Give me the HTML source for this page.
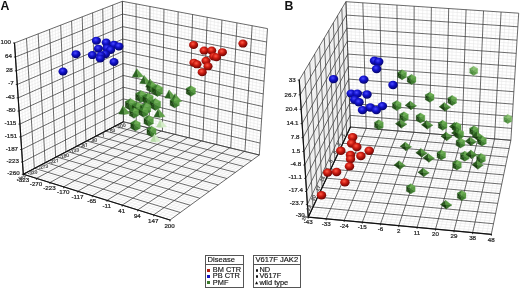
<!DOCTYPE html>
<html><head><meta charset="utf-8"><style>
html,body{margin:0;padding:0;background:#fff;width:520px;height:289px;overflow:hidden}
body{position:relative;font-family:"Liberation Sans",sans-serif}
#w{position:absolute;left:0;top:0;width:520px;height:289px;filter:blur(0.3px)}
svg{position:absolute;left:0;top:0}
text{font-family:"Liberation Sans",sans-serif;fill:#333}
.lg{position:absolute;border:1px solid #555;background:#fff}
.hd{position:absolute;left:0;top:0;right:0;height:8px;border-bottom:1px solid #555;font-size:7.6px;line-height:8.5px;padding-left:1.5px;color:#111;-webkit-text-stroke:0.15px #111}
.it{position:absolute;left:0.8px;font-size:7.4px;line-height:7px;color:#111;white-space:nowrap;-webkit-text-stroke:0.15px #111}
.sq{display:inline-block;width:3px;height:3px;margin-right:3px;vertical-align:0.5px}
.bu{display:inline-block;width:4.4px;height:7px;position:relative;vertical-align:top}
.dot{position:absolute;left:0.6px;top:3px;background:#111;border-radius:50%}
.tri{position:absolute;left:0.5px;top:2.8px;width:0;height:0;border-left:1.5px solid transparent;border-right:1.5px solid transparent;border-bottom:2.8px solid #111}
.pl{position:absolute;font-weight:bold;font-size:12.3px;line-height:13px;color:#111}
</style></head><body><div id="w">
<svg width="520" height="289" viewBox="0 0 520 289"><defs>
<radialGradient id="gr" cx="0.42" cy="0.36" r="0.64"><stop offset="0" stop-color="#ff5a45"/><stop offset="0.45" stop-color="#cc1c12"/><stop offset="1" stop-color="#6a0402"/></radialGradient>
<radialGradient id="gb" cx="0.42" cy="0.36" r="0.64"><stop offset="0" stop-color="#4a4aff"/><stop offset="0.45" stop-color="#1212cc"/><stop offset="1" stop-color="#040468"/></radialGradient>
</defs>
<path d="M126.60 122.58L125.80 1.94M129.81 123.37L129.22 2.58M133.03 124.15L132.64 3.23M139.49 125.73L139.52 4.52M142.74 126.53L142.98 5.17M146.00 127.32L146.45 5.82M152.54 128.92L153.42 7.14M155.83 129.72L156.92 7.79M159.13 130.53L160.43 8.46M165.75 132.15L167.50 9.78M169.08 132.96L171.04 10.45M172.42 133.78L174.60 11.12M179.13 135.41L181.76 12.47M182.49 136.24L185.35 13.14M185.87 137.06L188.96 13.82M192.66 138.72L196.20 15.19M196.07 139.55L199.84 15.87M199.49 140.39L203.50 16.56M206.36 142.07L210.84 17.94M209.82 142.91L214.53 18.63M213.28 143.76L218.23 19.33M220.24 145.46L225.67 20.73M223.73 146.31L229.41 21.43M227.24 147.17L233.16 22.14M234.29 148.89L240.70 23.56M237.83 149.75L244.49 24.27M241.38 150.62L248.30 24.99M248.51 152.36L255.94 26.42M252.10 153.24L259.78 27.15M255.69 154.12L263.63 27.87M123.38 118.96L259.49 152.04M123.35 116.12L259.69 149.06M123.33 113.27L259.88 146.08M123.28 107.53L260.27 140.09M123.26 104.66L260.46 137.08M123.23 101.77L260.66 134.06M123.19 95.97L261.05 127.99M123.16 93.05L261.25 124.94M123.14 90.13L261.45 121.88M123.09 84.26L261.85 115.73M123.06 81.31L262.05 112.64M123.04 78.35L262.25 109.54M122.99 72.40L262.65 103.31M122.97 69.42L262.86 100.18M122.94 66.42L263.06 97.04M122.89 60.40L263.47 90.72M122.87 57.38L263.68 87.55M122.84 54.34L263.88 84.37M122.79 48.25L264.30 77.97M122.76 45.19L264.51 74.76M122.74 42.12L264.71 71.53M122.69 35.95L265.14 65.05M122.66 32.85L265.35 61.79M122.64 29.74L265.56 58.52M122.58 23.49L265.99 51.95M122.56 20.35L266.20 48.65M122.53 17.20L266.41 45.33M122.48 10.87L266.85 38.67M122.45 7.69L267.06 35.33M122.43 4.50L267.28 31.97" stroke="#e2e2e2" stroke-width="0.5" fill="none"/><path d="M123.40 121.80L122.40 1.30M136.26 124.94L136.08 3.87M149.27 128.12L149.93 6.48M162.44 131.34L163.96 9.12M175.77 134.59L178.17 11.79M189.26 137.89L192.57 14.50M202.92 141.23L207.16 17.25M216.75 144.61L221.95 20.03M230.76 148.03L236.93 22.85M244.94 151.49L252.11 25.70M259.30 155.00L267.50 28.60M123.40 121.80L259.30 155.00M123.31 110.41L260.07 143.09M123.21 98.87L260.86 131.03M123.11 87.20L261.65 118.81M123.01 75.38L262.45 106.43M122.92 63.41L263.26 93.88M122.81 51.30L264.09 81.17M122.71 39.04L264.92 68.29M122.61 26.62L265.77 55.24M122.51 14.04L266.63 42.01M122.40 1.30L267.50 28.60" stroke="#3a3a3a" stroke-width="0.75" fill="none"/><path d="M121.15 122.98L119.99 2.23M118.89 124.17L117.57 3.17M116.61 125.36L115.13 4.11M112.02 127.77L110.22 6.01M109.71 128.98L107.75 6.96M107.39 130.20L105.26 7.93M102.71 132.65L100.24 9.87M100.35 133.89L97.70 10.84M97.98 135.13L95.16 11.83M93.20 137.64L90.02 13.81M90.79 138.90L87.43 14.81M88.36 140.18L84.83 15.82M83.48 142.74L79.57 17.85M81.02 144.03L76.92 18.88M78.54 145.33L74.26 19.91M73.55 147.94L68.88 21.98M71.04 149.26L66.17 23.03M68.51 150.59L63.44 24.09M63.41 153.26L57.94 26.21M60.84 154.61L55.16 27.29M58.25 155.97L52.37 28.37M53.04 158.70L46.73 30.54M50.41 160.08L43.89 31.64M47.77 161.47L41.03 32.75M42.44 164.26L35.26 34.98M39.75 165.67L32.35 36.10M37.05 167.09L29.42 37.23M31.59 169.95L23.51 39.52M28.85 171.39L20.52 40.67M26.08 172.84L17.52 41.83M123.38 118.98L23.10 171.25M123.35 116.14L22.89 168.18M123.33 113.30L22.68 165.10M123.28 107.59L22.27 158.92M123.26 104.72L22.06 155.81M123.23 101.84L21.85 152.69M123.19 96.05L21.43 146.41M123.16 93.14L21.22 143.26M123.14 90.23L21.01 140.09M123.09 84.36L20.58 133.73M123.06 81.42L20.37 130.53M123.04 78.46L20.15 127.31M122.99 72.52L19.72 120.85M122.97 69.54L19.50 117.61M122.94 66.54L19.28 114.35M122.89 60.53L18.84 107.79M122.87 57.50L18.62 104.49M122.84 54.47L18.40 101.19M122.79 48.37L17.95 94.53M122.77 45.30L17.73 91.19M122.74 42.23L17.50 87.83M122.69 36.05L17.05 81.07M122.66 32.94L16.82 77.68M122.64 29.83L16.60 74.27M122.58 23.56L16.14 67.41M122.56 20.41L15.91 63.96M122.53 17.25L15.67 60.50M122.48 10.91L15.21 53.54M122.45 7.71L14.97 50.04M122.43 4.51L14.74 46.53" stroke="#e2e2e2" stroke-width="0.5" fill="none"/><path d="M123.40 121.80L122.40 1.30M114.32 126.56L112.69 5.05M105.06 131.42L102.75 8.89M95.59 136.38L92.60 12.82M85.93 141.45L82.21 16.83M76.06 146.63L71.58 20.94M65.97 151.92L60.70 25.15M55.65 157.33L49.56 29.45M45.11 162.86L38.15 33.86M34.33 168.52L26.47 38.37M23.30 174.30L14.50 43.00M123.40 121.80L23.30 174.30M123.31 110.45L22.48 162.02M123.21 98.95L21.64 149.56M123.11 87.30L20.79 136.92M123.02 75.50L19.93 124.09M122.92 63.54L19.06 111.07M122.82 51.42L18.18 97.86M122.71 39.14L17.28 84.46M122.61 26.70L16.37 70.85M122.51 14.09L15.44 57.03M122.40 1.30L14.50 43.00" stroke="#3a3a3a" stroke-width="0.75" fill="none"/><path d="M126.47 122.55L26.56 175.32M129.56 123.30L29.84 176.34M132.66 124.06L33.14 177.36M138.91 125.59L39.79 179.44M142.05 126.36L43.14 180.48M145.22 127.13L46.52 181.53M151.59 128.69L53.33 183.65M154.80 129.47L56.76 184.72M158.03 130.26L60.21 185.80M164.54 131.85L67.18 187.97M167.81 132.65L70.70 189.07M171.11 133.45L74.23 190.17M177.75 135.08L81.37 192.39M181.09 135.89L84.97 193.51M184.45 136.72L88.59 194.64M191.23 138.37L95.90 196.92M194.65 139.20L99.59 198.06M198.08 140.04L103.30 199.22M205.00 141.73L110.78 201.55M208.48 142.59L114.56 202.73M211.99 143.44L118.36 203.91M219.06 145.17L126.04 206.30M222.62 146.04L129.91 207.51M226.20 146.91L133.81 208.72M233.42 148.68L141.67 211.18M237.05 149.57L145.64 212.41M240.71 150.46L149.64 213.66M248.09 152.26L157.71 216.17M251.80 153.17L161.78 217.44M255.54 154.08L165.88 218.72M121.22 122.94L257.39 156.39M119.03 124.09L255.47 157.79M116.83 125.25L253.53 159.20M112.37 127.58L249.61 162.05M110.12 128.76L247.63 163.49M107.86 129.95L245.63 164.95M103.28 132.35L241.59 167.89M100.97 133.57L239.55 169.38M98.64 134.79L237.49 170.87M93.93 137.25L233.33 173.91M91.55 138.50L231.22 175.44M89.16 139.76L229.09 176.99M84.32 142.30L224.80 180.11M81.87 143.58L222.62 181.70M79.41 144.87L220.43 183.29M74.43 147.48L215.99 186.52M71.92 148.80L213.75 188.16M69.38 150.13L211.49 189.80M64.26 152.82L206.90 193.14M61.66 154.18L204.58 194.83M59.06 155.55L202.25 196.53M53.78 158.31L197.51 199.97M51.11 159.71L195.11 201.72M48.42 161.12L192.70 203.48M42.99 163.98L187.80 207.04M40.24 165.42L185.32 208.85M37.47 166.87L182.82 210.67M31.87 169.81L177.76 214.35M29.03 171.29L175.20 216.22M26.18 172.79L172.61 218.10" stroke="#e2e2e2" stroke-width="0.5" fill="none"/><path d="M123.40 121.80L23.30 174.30M135.77 124.82L36.45 178.40M148.40 127.91L49.91 182.59M161.28 131.05L63.69 186.88M174.42 134.26L77.79 191.27M187.83 137.54L92.23 195.77M201.53 140.89L107.03 200.38M215.51 144.30L122.19 205.11M229.80 147.79L137.73 209.95M244.39 151.36L153.66 214.91M259.30 155.00L170.00 220.00M123.40 121.80L259.30 155.00M114.61 126.41L251.58 160.62M105.58 131.15L243.62 166.41M96.29 136.02L235.42 172.38M86.75 141.02L226.95 178.54M76.93 146.17L218.22 184.90M66.83 151.47L209.20 191.46M56.43 156.93L199.89 198.24M45.71 162.54L190.26 205.25M34.68 168.33L180.30 212.50M23.30 174.30L170.00 220.00" stroke="#3a3a3a" stroke-width="0.75" fill="none"/><path d="M14.50 43.00L23.30 174.30M23.30 174.30L123.40 121.80M23.30 174.30L170.00 220.00" stroke="#111" stroke-width="1.2" fill="none" stroke-linecap="round"/><path d="M21.80 174.30L23.30 174.30M23.30 174.30L23.30 175.80M20.98 162.02L22.48 162.02M36.45 178.40L36.45 179.90M20.14 149.56L21.64 149.56M49.91 182.59L49.91 184.09M19.29 136.92L20.79 136.92M63.69 186.88L63.69 188.38M18.43 124.09L19.93 124.09M77.79 191.27L77.79 192.77M17.56 111.07L19.06 111.07M92.23 195.77L92.23 197.27M16.68 97.86L18.18 97.86M107.03 200.38L107.03 201.88M15.78 84.46L17.28 84.46M122.19 205.11L122.19 206.61M14.87 70.85L16.37 70.85M137.73 209.95L137.73 211.45M13.94 57.03L15.44 57.03M153.66 214.91L153.66 216.41M13.00 43.00L14.50 43.00M170.00 220.00L170.00 221.50" stroke="#111" stroke-width="0.8" fill="none"/>
<path d="M354.39 127.39L350.13 1.97M358.32 127.71L354.37 2.25M362.27 128.04L358.61 2.53M370.16 128.69L367.10 3.10M374.11 129.01L371.35 3.38M378.07 129.34L375.61 3.67M386.00 129.99L384.14 4.23M389.97 130.32L388.41 4.52M393.94 130.64L392.68 4.80M401.90 131.30L401.25 5.37M405.88 131.63L405.54 5.66M409.87 131.96L409.83 5.95M417.86 132.62L418.43 6.52M421.86 132.95L422.74 6.81M425.86 133.28L427.05 7.09M433.89 133.94L435.69 7.67M437.90 134.27L440.01 7.96M441.92 134.60L444.34 8.25M449.98 135.26L453.02 8.83M454.01 135.59L457.36 9.12M458.05 135.93L461.71 9.41M466.13 136.59L470.43 9.99M470.18 136.93L474.79 10.28M474.23 137.26L479.16 10.57M482.35 137.93L487.91 11.15M486.42 138.26L492.29 11.44M490.49 138.60L496.68 11.74M498.64 139.27L505.47 12.32M502.72 139.61L509.87 12.62M506.80 139.94L514.27 12.91M350.35 124.14L511.07 137.33M350.24 121.21L511.26 134.36M350.14 118.28L511.44 131.39M349.92 112.37L511.81 125.41M349.81 109.40L511.99 122.40M349.70 106.41L512.18 119.38M349.49 100.42L512.55 113.31M349.38 97.41L512.73 110.26M349.27 94.38L512.92 107.19M349.05 88.30L513.30 101.03M348.94 85.24L513.49 97.94M348.83 82.17L513.68 94.83M348.60 76.01L514.06 88.58M348.49 72.90L514.26 85.43M348.38 69.79L514.45 82.28M348.15 63.53L514.84 75.94M348.03 60.38L515.03 72.74M347.92 57.22L515.23 69.54M347.69 50.87L515.63 63.10M347.57 47.68L515.82 59.86M347.46 44.47L516.02 56.61M347.22 38.02L516.42 50.07M347.11 34.78L516.63 46.79M346.99 31.53L516.83 43.48M346.75 24.98L517.24 36.85M346.63 21.69L517.44 33.51M346.51 18.39L517.65 30.16M346.27 11.75L518.06 23.41M346.15 8.40L518.27 20.02M346.03 5.05L518.48 16.62" stroke="#e2e2e2" stroke-width="0.5" fill="none"/><path d="M350.45 127.06L345.90 1.69M366.21 128.36L362.85 2.82M382.03 129.66L379.87 3.95M397.92 130.97L396.96 5.09M413.86 132.29L414.13 6.23M429.87 133.61L431.37 7.38M445.95 134.93L448.68 8.54M462.09 136.26L466.07 9.70M478.29 137.59L483.53 10.86M494.56 138.93L501.07 12.03M510.89 140.28L518.69 13.20M350.45 127.06L510.89 140.28M350.03 115.33L511.62 128.40M349.60 103.42L512.36 116.35M349.16 91.35L513.11 104.12M348.71 79.10L513.87 91.71M348.26 66.67L514.64 79.11M347.80 54.05L515.43 66.33M347.34 41.25L516.22 53.35M346.87 28.26L517.03 40.17M346.39 15.07L517.85 26.79M345.90 1.69L518.69 13.20" stroke="#3a3a3a" stroke-width="0.75" fill="none"/><path d="M349.53 129.04L344.89 3.39M348.60 131.02L343.87 5.10M347.66 133.02L342.85 6.82M345.76 137.06L340.78 10.30M344.81 139.10L339.73 12.06M343.85 141.15L338.67 13.83M341.90 145.30L336.54 17.41M340.92 147.39L335.47 19.22M339.94 149.49L334.38 21.04M337.94 153.74L332.19 24.72M336.93 155.89L331.08 26.58M335.92 158.05L329.97 28.45M333.87 162.42L327.71 32.24M332.84 164.62L326.57 34.15M331.80 166.84L325.43 36.08M329.70 171.33L323.11 39.98M328.64 173.59L321.93 41.95M327.57 175.87L320.75 43.93M325.41 180.48L318.36 47.95M324.32 182.80L317.15 49.98M323.22 185.14L315.94 52.02M321.00 189.88L313.48 56.15M319.88 192.27L312.23 58.24M318.75 194.68L310.98 60.35M316.46 199.55L308.44 64.61M315.31 202.01L307.16 66.76M314.15 204.48L305.86 68.94M311.80 209.49L303.25 73.33M310.62 212.02L301.93 75.55M309.42 214.57L300.59 77.79M350.35 124.14L308.01 213.98M350.24 121.21L307.80 210.81M350.14 118.28L307.60 207.62M349.92 112.37L307.18 201.22M349.81 109.40L306.97 198.00M349.70 106.41L306.75 194.76M349.49 100.42L306.33 188.25M349.38 97.41L306.11 184.98M349.27 94.38L305.90 181.69M349.05 88.30L305.47 175.07M348.94 85.24L305.25 171.74M348.83 82.17L305.03 168.40M348.60 76.01L304.59 161.67M348.49 72.90L304.37 158.28M348.38 69.79L304.15 154.88M348.15 63.53L303.70 148.04M348.03 60.38L303.47 144.60M347.92 57.22L303.25 141.14M347.69 50.87L302.79 134.18M347.57 47.68L302.56 130.68M347.46 44.47L302.33 127.17M347.22 38.02L301.87 120.09M347.11 34.78L301.64 116.52M346.99 31.53L301.40 112.95M346.75 24.98L300.93 105.75M346.63 21.69L300.69 102.12M346.51 18.39L300.46 98.48M346.27 11.75L299.98 91.16M346.15 8.40L299.74 87.47M346.03 5.05L299.49 83.77" stroke="#e2e2e2" stroke-width="0.5" fill="none"/><path d="M350.45 127.06L345.90 1.69M346.71 135.04L341.82 8.55M342.88 143.22L337.61 15.61M338.94 151.61L333.29 22.87M334.90 160.23L328.84 30.34M330.75 169.08L324.27 38.02M326.49 178.16L319.56 45.93M322.11 187.50L314.71 54.08M317.61 197.10L309.71 62.47M312.98 206.98L304.56 71.12M308.22 217.13L299.25 80.05M350.45 127.06L308.22 217.13M350.03 115.33L307.39 204.43M349.60 103.42L306.54 191.51M349.16 91.35L305.68 178.39M348.71 79.10L304.81 165.04M348.26 66.67L303.92 151.47M347.80 54.05L303.02 137.67M347.34 41.25L302.10 123.63M346.87 28.26L301.17 109.35M346.39 15.07L300.22 94.83M345.90 1.69L299.25 80.05" stroke="#3a3a3a" stroke-width="0.75" fill="none"/><path d="M354.39 127.39L312.69 217.55M358.32 127.71L317.17 217.98M362.27 128.04L321.66 218.40M370.16 128.69L330.65 219.25M374.11 129.01L335.15 219.67M378.07 129.34L339.65 220.09M386.00 129.99L348.68 220.95M389.97 130.32L353.20 221.37M393.94 130.64L357.73 221.80M401.90 131.30L366.80 222.65M405.88 131.63L371.34 223.08M409.87 131.96L375.89 223.51M417.86 132.62L385.00 224.37M421.86 132.95L389.56 224.80M425.86 133.28L394.13 225.23M433.89 133.94L403.28 226.09M437.90 134.27L407.87 226.52M441.92 134.60L412.46 226.95M449.98 135.26L421.65 227.82M454.01 135.59L426.26 228.25M458.05 135.93L430.87 228.69M466.13 136.59L440.10 229.56M470.18 136.93L444.73 229.99M474.23 137.26L449.36 230.43M482.35 137.93L458.64 231.31M486.42 138.26L463.29 231.74M490.49 138.60L467.94 232.18M498.64 139.27L477.26 233.06M502.72 139.61L481.93 233.50M506.80 139.94L486.61 233.94M349.53 129.04L510.46 142.34M348.60 131.02L510.03 144.41M347.66 133.02L509.60 146.49M345.76 137.06L508.72 150.70M344.81 139.10L508.28 152.83M343.85 141.15L507.83 154.97M341.90 145.30L506.93 159.29M340.92 147.39L506.48 161.47M339.94 149.49L506.02 163.66M337.94 153.74L505.10 168.10M336.93 155.89L504.63 170.34M335.92 158.05L504.16 172.60M333.87 162.42L503.21 177.15M332.84 164.62L502.73 179.46M331.80 166.84L502.25 181.77M329.70 171.33L501.27 186.46M328.64 173.59L500.78 188.82M327.57 175.87L500.28 191.20M325.41 180.48L499.28 196.02M324.32 182.80L498.77 198.45M323.22 185.14L498.26 200.90M321.00 189.88L497.23 205.85M319.88 192.27L496.71 208.35M318.75 194.68L496.19 210.87M316.46 199.55L495.13 215.96M315.31 202.01L494.59 218.54M314.15 204.48L494.05 221.13M311.80 209.49L492.96 226.37M310.62 212.02L492.41 229.02M309.42 214.57L491.85 231.69" stroke="#e2e2e2" stroke-width="0.5" fill="none"/><path d="M350.45 127.06L308.22 217.13M366.21 128.36L326.15 218.82M382.03 129.66L344.17 220.52M397.92 130.97L362.26 222.22M413.86 132.29L380.44 223.94M429.87 133.61L398.71 225.66M445.95 134.93L417.05 227.39M462.09 136.26L435.48 229.12M478.29 137.59L454.00 230.87M494.56 138.93L472.60 232.62M510.89 140.28L491.29 234.38M350.45 127.06L510.89 140.28M346.71 135.04L509.16 148.59M342.88 143.22L507.39 157.12M338.94 151.61L505.56 165.87M334.90 160.23L503.69 174.87M330.75 169.08L501.76 184.11M326.49 178.16L499.78 193.60M322.11 187.50L497.75 203.37M317.61 197.10L495.66 213.41M312.98 206.98L493.51 223.74M308.22 217.13L491.29 234.38" stroke="#3a3a3a" stroke-width="0.75" fill="none"/><path d="M299.25 80.05L308.22 217.13M308.22 217.13L350.45 127.06M308.22 217.13L491.29 234.38" stroke="#111" stroke-width="1.2" fill="none" stroke-linecap="round"/><path d="M306.72 217.13L308.22 217.13M308.22 217.13L308.22 218.63M305.89 204.43L307.39 204.43M326.15 218.82L326.15 220.32M305.04 191.51L306.54 191.51M344.17 220.52L344.17 222.02M304.18 178.39L305.68 178.39M362.26 222.22L362.26 223.72M303.31 165.04L304.81 165.04M380.44 223.94L380.44 225.44M302.42 151.47L303.92 151.47M398.71 225.66L398.71 227.16M301.52 137.67L303.02 137.67M417.05 227.39L417.05 228.89M300.60 123.63L302.10 123.63M435.48 229.12L435.48 230.62M299.67 109.35L301.17 109.35M454.00 230.87L454.00 232.37M298.72 94.83L300.22 94.83M472.60 232.62L472.60 234.12M297.75 80.05L299.25 80.05M491.29 234.38L491.29 235.88" stroke="#111" stroke-width="0.8" fill="none"/>
<text x="10.90" y="44.00" text-anchor="end" font-size="6.2" fill="#1a1a1a" stroke="#1a1a1a" stroke-width="0.24">100</text><text x="11.84" y="58.03" text-anchor="end" font-size="6.2" fill="#1a1a1a" stroke="#1a1a1a" stroke-width="0.24">64</text><text x="12.77" y="71.85" text-anchor="end" font-size="6.2" fill="#1a1a1a" stroke="#1a1a1a" stroke-width="0.24">28</text><text x="13.68" y="85.46" text-anchor="end" font-size="6.2" fill="#1a1a1a" stroke="#1a1a1a" stroke-width="0.24">-7</text><text x="14.58" y="98.86" text-anchor="end" font-size="6.2" fill="#1a1a1a" stroke="#1a1a1a" stroke-width="0.24">-43</text><text x="15.46" y="112.07" text-anchor="end" font-size="6.2" fill="#1a1a1a" stroke="#1a1a1a" stroke-width="0.24">-80</text><text x="16.33" y="125.09" text-anchor="end" font-size="6.2" fill="#1a1a1a" stroke="#1a1a1a" stroke-width="0.24">-115</text><text x="17.19" y="137.92" text-anchor="end" font-size="6.2" fill="#1a1a1a" stroke="#1a1a1a" stroke-width="0.24">-151</text><text x="18.04" y="150.56" text-anchor="end" font-size="6.2" fill="#1a1a1a" stroke="#1a1a1a" stroke-width="0.24">-187</text><text x="18.88" y="163.02" text-anchor="end" font-size="6.2" fill="#1a1a1a" stroke="#1a1a1a" stroke-width="0.24">-223</text><text x="19.70" y="175.30" text-anchor="end" font-size="6.2" fill="#1a1a1a" stroke="#1a1a1a" stroke-width="0.24">-260</text><text x="22.90" y="181.90" text-anchor="middle" font-size="6.2" fill="#1a1a1a" stroke="#1a1a1a" stroke-width="0.24">-323</text><text x="36.05" y="186.00" text-anchor="middle" font-size="6.2" fill="#1a1a1a" stroke="#1a1a1a" stroke-width="0.24">-270</text><text x="49.51" y="190.19" text-anchor="middle" font-size="6.2" fill="#1a1a1a" stroke="#1a1a1a" stroke-width="0.24">-223</text><text x="63.29" y="194.48" text-anchor="middle" font-size="6.2" fill="#1a1a1a" stroke="#1a1a1a" stroke-width="0.24">-170</text><text x="77.39" y="198.87" text-anchor="middle" font-size="6.2" fill="#1a1a1a" stroke="#1a1a1a" stroke-width="0.24">-117</text><text x="91.83" y="203.37" text-anchor="middle" font-size="6.2" fill="#1a1a1a" stroke="#1a1a1a" stroke-width="0.24">-65</text><text x="106.63" y="207.98" text-anchor="middle" font-size="6.2" fill="#1a1a1a" stroke="#1a1a1a" stroke-width="0.24">-11</text><text x="121.79" y="212.71" text-anchor="middle" font-size="6.2" fill="#1a1a1a" stroke="#1a1a1a" stroke-width="0.24">41</text><text x="137.33" y="217.55" text-anchor="middle" font-size="6.2" fill="#1a1a1a" stroke="#1a1a1a" stroke-width="0.24">94</text><text x="153.26" y="222.51" text-anchor="middle" font-size="6.2" fill="#1a1a1a" stroke="#1a1a1a" stroke-width="0.24">147</text><text x="169.60" y="227.60" text-anchor="middle" font-size="6.2" fill="#1a1a1a" stroke="#1a1a1a" stroke-width="0.24">200</text><text x="21.80" y="179.90" text-anchor="middle" font-size="4.8" fill="#5a5a5a" stroke="#5a5a5a" stroke-width="0.24" transform="rotate(-12.0 21.80 179.90)">-367</text><text x="32.83" y="174.12" text-anchor="middle" font-size="4.8" fill="#5a5a5a" stroke="#5a5a5a" stroke-width="0.24" transform="rotate(-12.0 32.83 174.12)">-320</text><text x="43.61" y="168.46" text-anchor="middle" font-size="4.8" fill="#5a5a5a" stroke="#5a5a5a" stroke-width="0.24" transform="rotate(-12.0 43.61 168.46)">-273</text><text x="54.15" y="162.93" text-anchor="middle" font-size="4.8" fill="#5a5a5a" stroke="#5a5a5a" stroke-width="0.24" transform="rotate(-12.0 54.15 162.93)">-227</text><text x="64.47" y="157.52" text-anchor="middle" font-size="4.8" fill="#5a5a5a" stroke="#5a5a5a" stroke-width="0.24" transform="rotate(-12.0 64.47 157.52)">-180</text><text x="74.56" y="152.23" text-anchor="middle" font-size="4.8" fill="#5a5a5a" stroke="#5a5a5a" stroke-width="0.24" transform="rotate(-12.0 74.56 152.23)">-133</text><text x="84.43" y="147.05" text-anchor="middle" font-size="4.8" fill="#5a5a5a" stroke="#5a5a5a" stroke-width="0.24" transform="rotate(-12.0 84.43 147.05)">-87</text><text x="94.09" y="141.98" text-anchor="middle" font-size="4.8" fill="#5a5a5a" stroke="#5a5a5a" stroke-width="0.24" transform="rotate(-12.0 94.09 141.98)">-40</text><text x="103.56" y="137.02" text-anchor="middle" font-size="4.8" fill="#5a5a5a" stroke="#5a5a5a" stroke-width="0.24" transform="rotate(-12.0 103.56 137.02)">7</text><text x="112.82" y="132.16" text-anchor="middle" font-size="4.8" fill="#5a5a5a" stroke="#5a5a5a" stroke-width="0.24" transform="rotate(-12.0 112.82 132.16)">53</text><text x="121.90" y="127.40" text-anchor="middle" font-size="4.8" fill="#5a5a5a" stroke="#5a5a5a" stroke-width="0.24" transform="rotate(-12.0 121.90 127.40)">100</text><text x="295.65" y="82.45" text-anchor="end" font-size="6.2" fill="#1a1a1a" stroke="#1a1a1a" stroke-width="0.24">33</text><text x="296.62" y="97.01" text-anchor="end" font-size="6.2" fill="#1a1a1a" stroke="#1a1a1a" stroke-width="0.24">26.7</text><text x="297.57" y="111.31" text-anchor="end" font-size="6.2" fill="#1a1a1a" stroke="#1a1a1a" stroke-width="0.24">20.4</text><text x="298.50" y="125.37" text-anchor="end" font-size="6.2" fill="#1a1a1a" stroke="#1a1a1a" stroke-width="0.24">14.1</text><text x="299.42" y="139.19" text-anchor="end" font-size="6.2" fill="#1a1a1a" stroke="#1a1a1a" stroke-width="0.24">7.8</text><text x="300.32" y="152.77" text-anchor="end" font-size="6.2" fill="#1a1a1a" stroke="#1a1a1a" stroke-width="0.24">1.5</text><text x="301.21" y="166.12" text-anchor="end" font-size="6.2" fill="#1a1a1a" stroke="#1a1a1a" stroke-width="0.24">-4.8</text><text x="302.08" y="179.25" text-anchor="end" font-size="6.2" fill="#1a1a1a" stroke="#1a1a1a" stroke-width="0.24">-11.1</text><text x="302.94" y="192.15" text-anchor="end" font-size="6.2" fill="#1a1a1a" stroke="#1a1a1a" stroke-width="0.24">-17.4</text><text x="303.79" y="204.85" text-anchor="end" font-size="6.2" fill="#1a1a1a" stroke="#1a1a1a" stroke-width="0.24">-23.7</text><text x="304.62" y="217.33" text-anchor="end" font-size="6.2" fill="#1a1a1a" stroke="#1a1a1a" stroke-width="0.24">-30</text><text x="308.22" y="224.33" text-anchor="middle" font-size="6.2" fill="#1a1a1a" stroke="#1a1a1a" stroke-width="0.24">-43</text><text x="326.15" y="226.02" text-anchor="middle" font-size="6.2" fill="#1a1a1a" stroke="#1a1a1a" stroke-width="0.24">-33</text><text x="344.17" y="227.72" text-anchor="middle" font-size="6.2" fill="#1a1a1a" stroke="#1a1a1a" stroke-width="0.24">-24</text><text x="362.26" y="229.42" text-anchor="middle" font-size="6.2" fill="#1a1a1a" stroke="#1a1a1a" stroke-width="0.24">-15</text><text x="380.44" y="231.14" text-anchor="middle" font-size="6.2" fill="#1a1a1a" stroke="#1a1a1a" stroke-width="0.24">-6</text><text x="398.71" y="232.86" text-anchor="middle" font-size="6.2" fill="#1a1a1a" stroke="#1a1a1a" stroke-width="0.24">2</text><text x="417.05" y="234.59" text-anchor="middle" font-size="6.2" fill="#1a1a1a" stroke="#1a1a1a" stroke-width="0.24">11</text><text x="435.48" y="236.32" text-anchor="middle" font-size="6.2" fill="#1a1a1a" stroke="#1a1a1a" stroke-width="0.24">20</text><text x="454.00" y="238.07" text-anchor="middle" font-size="6.2" fill="#1a1a1a" stroke="#1a1a1a" stroke-width="0.24">29</text><text x="472.60" y="239.82" text-anchor="middle" font-size="6.2" fill="#1a1a1a" stroke="#1a1a1a" stroke-width="0.24">38</text><text x="491.29" y="241.58" text-anchor="middle" font-size="6.2" fill="#1a1a1a" stroke="#1a1a1a" stroke-width="0.24">48</text><text x="305.72" y="218.63" text-anchor="middle" font-size="4.8" fill="#5a5a5a" stroke="#5a5a5a" stroke-width="0.24" transform="rotate(-64.0 305.72 218.63)">26</text><text x="310.48" y="208.48" text-anchor="middle" font-size="4.8" fill="#5a5a5a" stroke="#5a5a5a" stroke-width="0.24" transform="rotate(-64.0 310.48 208.48)">23</text><text x="315.11" y="198.60" text-anchor="middle" font-size="4.8" fill="#5a5a5a" stroke="#5a5a5a" stroke-width="0.24" transform="rotate(-64.0 315.11 198.60)">20</text><text x="319.61" y="189.00" text-anchor="middle" font-size="4.8" fill="#5a5a5a" stroke="#5a5a5a" stroke-width="0.24" transform="rotate(-64.0 319.61 189.00)">17</text><text x="323.99" y="179.66" text-anchor="middle" font-size="4.8" fill="#5a5a5a" stroke="#5a5a5a" stroke-width="0.24" transform="rotate(-64.0 323.99 179.66)">14</text><text x="328.25" y="170.58" text-anchor="middle" font-size="4.8" fill="#5a5a5a" stroke="#5a5a5a" stroke-width="0.24" transform="rotate(-64.0 328.25 170.58)">11</text><text x="332.40" y="161.73" text-anchor="middle" font-size="4.8" fill="#5a5a5a" stroke="#5a5a5a" stroke-width="0.24" transform="rotate(-64.0 332.40 161.73)">8</text><text x="336.44" y="153.11" text-anchor="middle" font-size="4.8" fill="#5a5a5a" stroke="#5a5a5a" stroke-width="0.24" transform="rotate(-64.0 336.44 153.11)">5</text><text x="340.38" y="144.72" text-anchor="middle" font-size="4.8" fill="#5a5a5a" stroke="#5a5a5a" stroke-width="0.24" transform="rotate(-64.0 340.38 144.72)">2</text><text x="344.21" y="136.54" text-anchor="middle" font-size="4.8" fill="#5a5a5a" stroke="#5a5a5a" stroke-width="0.24" transform="rotate(-64.0 344.21 136.54)">-1</text>
<path d="M136.70 68.70L132.20 76.80L138.50 77.40Z" fill="#2c6222" stroke="#2c6222" stroke-width="0.3"/><path d="M136.70 68.70L138.50 77.40L143.60 76.50Z" fill="#5e9e48" stroke="#5e9e48" stroke-width="0.3"/><path d="M144.10 75.40L139.60 83.50L145.90 84.10Z" fill="#2c6222" stroke="#2c6222" stroke-width="0.3"/><path d="M144.10 75.40L145.90 84.10L151.00 83.20Z" fill="#5e9e48" stroke="#5e9e48" stroke-width="0.3"/><path d="M150.00 79.00L145.50 87.10L151.80 87.70Z" fill="#2c6222" stroke="#2c6222" stroke-width="0.3"/><path d="M150.00 79.00L151.80 87.70L156.90 86.80Z" fill="#5e9e48" stroke="#5e9e48" stroke-width="0.3"/><path d="M149.85 86.47L151.50 81.80L156.26 84.55Z" fill="#6cae52" stroke="#6cae52" stroke-width="0.3"/><path d="M149.85 86.47L156.26 84.55L156.26 90.05Z" fill="#5a9e44" stroke="#5a9e44" stroke-width="0.3"/><path d="M149.85 86.47L156.26 90.05L151.50 92.80Z" fill="#3e7e2e" stroke="#3e7e2e" stroke-width="0.3"/><path d="M149.85 86.47L151.50 92.80L146.74 90.05Z" fill="#24521a" stroke="#24521a" stroke-width="0.3"/><path d="M149.85 86.47L146.74 90.05L146.74 84.55Z" fill="#1c4212" stroke="#1c4212" stroke-width="0.3"/><path d="M149.85 86.47L146.74 84.55L151.50 81.80Z" fill="#3a7a2c" stroke="#3a7a2c" stroke-width="0.3"/><path d="M155.70 89.60L157.50 84.50L162.70 87.50Z" fill="#6cae52" stroke="#6cae52" stroke-width="0.3"/><path d="M155.70 89.60L162.70 87.50L162.70 93.50Z" fill="#5a9e44" stroke="#5a9e44" stroke-width="0.3"/><path d="M155.70 89.60L162.70 93.50L157.50 96.50Z" fill="#3e7e2e" stroke="#3e7e2e" stroke-width="0.3"/><path d="M155.70 89.60L157.50 96.50L152.30 93.50Z" fill="#24521a" stroke="#24521a" stroke-width="0.3"/><path d="M155.70 89.60L152.30 93.50L152.30 87.50Z" fill="#1c4212" stroke="#1c4212" stroke-width="0.3"/><path d="M155.70 89.60L152.30 87.50L157.50 84.50Z" fill="#3a7a2c" stroke="#3a7a2c" stroke-width="0.3"/><path d="M189.31 90.20L190.90 85.70L195.49 88.35Z" fill="#6cae52" stroke="#6cae52" stroke-width="0.3"/><path d="M189.31 90.20L195.49 88.35L195.49 93.65Z" fill="#5a9e44" stroke="#5a9e44" stroke-width="0.3"/><path d="M189.31 90.20L195.49 93.65L190.90 96.30Z" fill="#3e7e2e" stroke="#3e7e2e" stroke-width="0.3"/><path d="M189.31 90.20L190.90 96.30L186.31 93.65Z" fill="#24521a" stroke="#24521a" stroke-width="0.3"/><path d="M189.31 90.20L186.31 93.65L186.31 88.35Z" fill="#1c4212" stroke="#1c4212" stroke-width="0.3"/><path d="M189.31 90.20L186.31 88.35L190.90 85.70Z" fill="#3a7a2c" stroke="#3a7a2c" stroke-width="0.3"/><path d="M169.10 89.90L164.60 98.00L170.90 98.60Z" fill="#2c6222" stroke="#2c6222" stroke-width="0.3"/><path d="M169.10 89.90L170.90 98.60L176.00 97.70Z" fill="#5e9e48" stroke="#5e9e48" stroke-width="0.3"/><path d="M175.00 93.70L170.50 101.80L176.80 102.40Z" fill="#2c6222" stroke="#2c6222" stroke-width="0.3"/><path d="M175.00 93.70L176.80 102.40L181.90 101.50Z" fill="#5e9e48" stroke="#5e9e48" stroke-width="0.3"/><path d="M173.11 101.80L174.70 97.30L179.29 99.95Z" fill="#6cae52" stroke="#6cae52" stroke-width="0.3"/><path d="M173.11 101.80L179.29 99.95L179.29 105.25Z" fill="#5a9e44" stroke="#5a9e44" stroke-width="0.3"/><path d="M173.11 101.80L179.29 105.25L174.70 107.90Z" fill="#3e7e2e" stroke="#3e7e2e" stroke-width="0.3"/><path d="M173.11 101.80L174.70 107.90L170.11 105.25Z" fill="#24521a" stroke="#24521a" stroke-width="0.3"/><path d="M173.11 101.80L170.11 105.25L170.11 99.95Z" fill="#1c4212" stroke="#1c4212" stroke-width="0.3"/><path d="M173.11 101.80L170.11 99.95L174.70 97.30Z" fill="#3a7a2c" stroke="#3a7a2c" stroke-width="0.3"/><path d="M139.10 95.60L140.90 90.50L146.10 93.50Z" fill="#6cae52" stroke="#6cae52" stroke-width="0.3"/><path d="M139.10 95.60L146.10 93.50L146.10 99.50Z" fill="#5a9e44" stroke="#5a9e44" stroke-width="0.3"/><path d="M139.10 95.60L146.10 99.50L140.90 102.50Z" fill="#3e7e2e" stroke="#3e7e2e" stroke-width="0.3"/><path d="M139.10 95.60L140.90 102.50L135.70 99.50Z" fill="#24521a" stroke="#24521a" stroke-width="0.3"/><path d="M139.10 95.60L135.70 99.50L135.70 93.50Z" fill="#1c4212" stroke="#1c4212" stroke-width="0.3"/><path d="M139.10 95.60L135.70 93.50L140.90 90.50Z" fill="#3a7a2c" stroke="#3a7a2c" stroke-width="0.3"/><path d="M146.20 98.10L148.00 93.00L153.20 96.00Z" fill="#6cae52" stroke="#6cae52" stroke-width="0.3"/><path d="M146.20 98.10L153.20 96.00L153.20 102.00Z" fill="#5a9e44" stroke="#5a9e44" stroke-width="0.3"/><path d="M146.20 98.10L153.20 102.00L148.00 105.00Z" fill="#3e7e2e" stroke="#3e7e2e" stroke-width="0.3"/><path d="M146.20 98.10L148.00 105.00L142.80 102.00Z" fill="#24521a" stroke="#24521a" stroke-width="0.3"/><path d="M146.20 98.10L142.80 102.00L142.80 96.00Z" fill="#1c4212" stroke="#1c4212" stroke-width="0.3"/><path d="M146.20 98.10L142.80 96.00L148.00 93.00Z" fill="#3a7a2c" stroke="#3a7a2c" stroke-width="0.3"/><path d="M153.60 103.50L155.40 98.40L160.60 101.40Z" fill="#6cae52" stroke="#6cae52" stroke-width="0.3"/><path d="M153.60 103.50L160.60 101.40L160.60 107.40Z" fill="#5a9e44" stroke="#5a9e44" stroke-width="0.3"/><path d="M153.60 103.50L160.60 107.40L155.40 110.40Z" fill="#3e7e2e" stroke="#3e7e2e" stroke-width="0.3"/><path d="M153.60 103.50L155.40 110.40L150.20 107.40Z" fill="#24521a" stroke="#24521a" stroke-width="0.3"/><path d="M153.60 103.50L150.20 107.40L150.20 101.40Z" fill="#1c4212" stroke="#1c4212" stroke-width="0.3"/><path d="M153.60 103.50L150.20 101.40L155.40 98.40Z" fill="#3a7a2c" stroke="#3a7a2c" stroke-width="0.3"/><path d="M128.70 103.50L130.50 98.40L135.70 101.40Z" fill="#6cae52" stroke="#6cae52" stroke-width="0.3"/><path d="M128.70 103.50L135.70 101.40L135.70 107.40Z" fill="#5a9e44" stroke="#5a9e44" stroke-width="0.3"/><path d="M128.70 103.50L135.70 107.40L130.50 110.40Z" fill="#3e7e2e" stroke="#3e7e2e" stroke-width="0.3"/><path d="M128.70 103.50L130.50 110.40L125.30 107.40Z" fill="#24521a" stroke="#24521a" stroke-width="0.3"/><path d="M128.70 103.50L125.30 107.40L125.30 101.40Z" fill="#1c4212" stroke="#1c4212" stroke-width="0.3"/><path d="M128.70 103.50L125.30 101.40L130.50 98.40Z" fill="#3a7a2c" stroke="#3a7a2c" stroke-width="0.3"/><path d="M135.60 107.00L137.40 101.90L142.60 104.90Z" fill="#6cae52" stroke="#6cae52" stroke-width="0.3"/><path d="M135.60 107.00L142.60 104.90L142.60 110.90Z" fill="#5a9e44" stroke="#5a9e44" stroke-width="0.3"/><path d="M135.60 107.00L142.60 110.90L137.40 113.90Z" fill="#3e7e2e" stroke="#3e7e2e" stroke-width="0.3"/><path d="M135.60 107.00L137.40 113.90L132.20 110.90Z" fill="#24521a" stroke="#24521a" stroke-width="0.3"/><path d="M135.60 107.00L132.20 110.90L132.20 104.90Z" fill="#1c4212" stroke="#1c4212" stroke-width="0.3"/><path d="M135.60 107.00L132.20 104.90L137.40 101.90Z" fill="#3a7a2c" stroke="#3a7a2c" stroke-width="0.3"/><path d="M143.90 107.60L145.70 102.50L150.90 105.50Z" fill="#6cae52" stroke="#6cae52" stroke-width="0.3"/><path d="M143.90 107.60L150.90 105.50L150.90 111.50Z" fill="#5a9e44" stroke="#5a9e44" stroke-width="0.3"/><path d="M143.90 107.60L150.90 111.50L145.70 114.50Z" fill="#3e7e2e" stroke="#3e7e2e" stroke-width="0.3"/><path d="M143.90 107.60L145.70 114.50L140.50 111.50Z" fill="#24521a" stroke="#24521a" stroke-width="0.3"/><path d="M143.90 107.60L140.50 111.50L140.50 105.50Z" fill="#1c4212" stroke="#1c4212" stroke-width="0.3"/><path d="M143.90 107.60L140.50 105.50L145.70 102.50Z" fill="#3a7a2c" stroke="#3a7a2c" stroke-width="0.3"/><path d="M132.44 112.22L134.00 107.80L138.50 110.40Z" fill="#6cae52" stroke="#6cae52" stroke-width="0.3"/><path d="M132.44 112.22L138.50 110.40L138.50 115.60Z" fill="#5a9e44" stroke="#5a9e44" stroke-width="0.3"/><path d="M132.44 112.22L138.50 115.60L134.00 118.20Z" fill="#3e7e2e" stroke="#3e7e2e" stroke-width="0.3"/><path d="M132.44 112.22L134.00 118.20L129.50 115.60Z" fill="#24521a" stroke="#24521a" stroke-width="0.3"/><path d="M132.44 112.22L129.50 115.60L129.50 110.40Z" fill="#1c4212" stroke="#1c4212" stroke-width="0.3"/><path d="M132.44 112.22L129.50 110.40L134.00 107.80Z" fill="#3a7a2c" stroke="#3a7a2c" stroke-width="0.3"/><path d="M141.94 111.22L143.50 106.80L148.00 109.40Z" fill="#6cae52" stroke="#6cae52" stroke-width="0.3"/><path d="M141.94 111.22L148.00 109.40L148.00 114.60Z" fill="#5a9e44" stroke="#5a9e44" stroke-width="0.3"/><path d="M141.94 111.22L148.00 114.60L143.50 117.20Z" fill="#3e7e2e" stroke="#3e7e2e" stroke-width="0.3"/><path d="M141.94 111.22L143.50 117.20L139.00 114.60Z" fill="#24521a" stroke="#24521a" stroke-width="0.3"/><path d="M141.94 111.22L139.00 114.60L139.00 109.40Z" fill="#1c4212" stroke="#1c4212" stroke-width="0.3"/><path d="M141.94 111.22L139.00 109.40L143.50 106.80Z" fill="#3a7a2c" stroke="#3a7a2c" stroke-width="0.3"/><path d="M123.00 105.80L118.50 113.90L124.80 114.50Z" fill="#2c6222" stroke="#2c6222" stroke-width="0.3"/><path d="M123.00 105.80L124.80 114.50L129.90 113.60Z" fill="#5e9e48" stroke="#5e9e48" stroke-width="0.3"/><path d="M158.30 108.70L153.80 116.80L160.10 117.40Z" fill="#2c6222" stroke="#2c6222" stroke-width="0.3"/><path d="M158.30 108.70L160.10 117.40L165.20 116.50Z" fill="#5e9e48" stroke="#5e9e48" stroke-width="0.3"/><path d="M160.40 119.60L156.28 127.03L162.05 127.58Z" fill="#b8dca8" stroke="#b8dca8" stroke-width="0.3"/><path d="M160.40 119.60L162.05 127.58L166.72 126.75Z" fill="#d4ecc8" stroke="#d4ecc8" stroke-width="0.3"/><path d="M147.05 119.97L148.70 115.30L153.46 118.05Z" fill="#6cae52" stroke="#6cae52" stroke-width="0.3"/><path d="M147.05 119.97L153.46 118.05L153.46 123.55Z" fill="#5a9e44" stroke="#5a9e44" stroke-width="0.3"/><path d="M147.05 119.97L153.46 123.55L148.70 126.30Z" fill="#3e7e2e" stroke="#3e7e2e" stroke-width="0.3"/><path d="M147.05 119.97L148.70 126.30L143.94 123.55Z" fill="#24521a" stroke="#24521a" stroke-width="0.3"/><path d="M147.05 119.97L143.94 123.55L143.94 118.05Z" fill="#1c4212" stroke="#1c4212" stroke-width="0.3"/><path d="M147.05 119.97L143.94 118.05L148.70 115.30Z" fill="#3a7a2c" stroke="#3a7a2c" stroke-width="0.3"/><path d="M133.85 124.67L135.50 120.00L140.26 122.75Z" fill="#6cae52" stroke="#6cae52" stroke-width="0.3"/><path d="M133.85 124.67L140.26 122.75L140.26 128.25Z" fill="#5a9e44" stroke="#5a9e44" stroke-width="0.3"/><path d="M133.85 124.67L140.26 128.25L135.50 131.00Z" fill="#3e7e2e" stroke="#3e7e2e" stroke-width="0.3"/><path d="M133.85 124.67L135.50 131.00L130.74 128.25Z" fill="#24521a" stroke="#24521a" stroke-width="0.3"/><path d="M133.85 124.67L130.74 128.25L130.74 122.75Z" fill="#1c4212" stroke="#1c4212" stroke-width="0.3"/><path d="M133.85 124.67L130.74 122.75L135.50 120.00Z" fill="#3a7a2c" stroke="#3a7a2c" stroke-width="0.3"/><path d="M149.91 130.71L151.50 126.20L156.09 128.85Z" fill="#6cae52" stroke="#6cae52" stroke-width="0.3"/><path d="M149.91 130.71L156.09 128.85L156.09 134.15Z" fill="#5a9e44" stroke="#5a9e44" stroke-width="0.3"/><path d="M149.91 130.71L156.09 134.15L151.50 136.80Z" fill="#3e7e2e" stroke="#3e7e2e" stroke-width="0.3"/><path d="M149.91 130.71L151.50 136.80L146.91 134.15Z" fill="#24521a" stroke="#24521a" stroke-width="0.3"/><path d="M149.91 130.71L146.91 134.15L146.91 128.85Z" fill="#1c4212" stroke="#1c4212" stroke-width="0.3"/><path d="M149.91 130.71L146.91 128.85L151.50 126.20Z" fill="#3a7a2c" stroke="#3a7a2c" stroke-width="0.3"/><path d="M154.50 134.10L150.38 141.53L156.15 142.07Z" fill="#b8dca8" stroke="#b8dca8" stroke-width="0.3"/><path d="M154.50 134.10L156.15 142.07L160.82 141.25Z" fill="#d4ecc8" stroke="#d4ecc8" stroke-width="0.3"/><ellipse cx="63" cy="71.5" rx="4.55" ry="4.004" fill="url(#gb)"/><ellipse cx="76" cy="54.2" rx="4.55" ry="4.004" fill="url(#gb)"/><ellipse cx="96.4" cy="40.7" rx="4.55" ry="4.004" fill="url(#gb)"/><ellipse cx="106.2" cy="42.5" rx="4.55" ry="4.004" fill="url(#gb)"/><ellipse cx="114" cy="44.7" rx="4.55" ry="4.004" fill="url(#gb)"/><ellipse cx="118.9" cy="46.4" rx="4.55" ry="4.004" fill="url(#gb)"/><ellipse cx="98.4" cy="48.7" rx="4.55" ry="4.004" fill="url(#gb)"/><ellipse cx="107.1" cy="48.2" rx="4.55" ry="4.004" fill="url(#gb)"/><ellipse cx="110.6" cy="49.9" rx="4.55" ry="4.004" fill="url(#gb)"/><ellipse cx="92.4" cy="55.1" rx="4.55" ry="4.004" fill="url(#gb)"/><ellipse cx="105.4" cy="54.2" rx="4.55" ry="4.004" fill="url(#gb)"/><ellipse cx="101" cy="55.6" rx="4.55" ry="4.004" fill="url(#gb)"/><ellipse cx="100.2" cy="58.5" rx="4.55" ry="4.004" fill="url(#gb)"/><ellipse cx="114" cy="62" rx="4.55" ry="4.004" fill="url(#gb)"/><ellipse cx="193.6" cy="44.9" rx="4.55" ry="4.004" fill="url(#gr)"/><ellipse cx="242.9" cy="43.6" rx="4.55" ry="4.004" fill="url(#gr)"/><ellipse cx="204.1" cy="50.6" rx="4.55" ry="4.004" fill="url(#gr)"/><ellipse cx="211.7" cy="50.6" rx="4.55" ry="4.004" fill="url(#gr)"/><ellipse cx="222.4" cy="52.2" rx="4.55" ry="4.004" fill="url(#gr)"/><ellipse cx="213.7" cy="56.5" rx="4.55" ry="4.004" fill="url(#gr)"/><ellipse cx="216.5" cy="57.2" rx="4.55" ry="4.004" fill="url(#gr)"/><ellipse cx="193.9" cy="62.7" rx="4.55" ry="4.004" fill="url(#gr)"/><ellipse cx="197" cy="64.3" rx="4.55" ry="4.004" fill="url(#gr)"/><ellipse cx="206" cy="60.8" rx="4.55" ry="4.004" fill="url(#gr)"/><ellipse cx="208" cy="66.3" rx="4.55" ry="4.004" fill="url(#gr)"/><ellipse cx="202.2" cy="72.2" rx="4.55" ry="4.004" fill="url(#gr)"/>
<path d="M472.32 70.11L473.70 66.20L477.68 68.50Z" fill="#8cc474" stroke="#8cc474" stroke-width="0.3"/><path d="M472.32 70.11L477.68 68.50L477.68 73.10Z" fill="#78b460" stroke="#78b460" stroke-width="0.3"/><path d="M472.32 70.11L477.68 73.10L473.70 75.40Z" fill="#5e9c4a" stroke="#5e9c4a" stroke-width="0.3"/><path d="M472.32 70.11L473.70 75.40L469.72 73.10Z" fill="#4a8a3a" stroke="#4a8a3a" stroke-width="0.3"/><path d="M472.32 70.11L469.72 73.10L469.72 68.50Z" fill="#56924a" stroke="#56924a" stroke-width="0.3"/><path d="M472.32 70.11L469.72 68.50L473.70 66.20Z" fill="#70ac5c" stroke="#70ac5c" stroke-width="0.3"/><path d="M506.42 118.31L507.80 114.40L511.78 116.70Z" fill="#8cc474" stroke="#8cc474" stroke-width="0.3"/><path d="M506.42 118.31L511.78 116.70L511.78 121.30Z" fill="#78b460" stroke="#78b460" stroke-width="0.3"/><path d="M506.42 118.31L511.78 121.30L507.80 123.60Z" fill="#5e9c4a" stroke="#5e9c4a" stroke-width="0.3"/><path d="M506.42 118.31L507.80 123.60L503.82 121.30Z" fill="#4a8a3a" stroke="#4a8a3a" stroke-width="0.3"/><path d="M506.42 118.31L503.82 121.30L503.82 116.70Z" fill="#56924a" stroke="#56924a" stroke-width="0.3"/><path d="M506.42 118.31L503.82 116.70L507.80 114.40Z" fill="#70ac5c" stroke="#70ac5c" stroke-width="0.3"/><path d="M400.60 73.95L402.10 69.70L406.43 72.20Z" fill="#6cae52" stroke="#6cae52" stroke-width="0.3"/><path d="M400.60 73.95L406.43 72.20L406.43 77.20Z" fill="#5a9e44" stroke="#5a9e44" stroke-width="0.3"/><path d="M400.60 73.95L406.43 77.20L402.10 79.70Z" fill="#3e7e2e" stroke="#3e7e2e" stroke-width="0.3"/><path d="M400.60 73.95L402.10 79.70L397.77 77.20Z" fill="#24521a" stroke="#24521a" stroke-width="0.3"/><path d="M400.60 73.95L397.77 77.20L397.77 72.20Z" fill="#1c4212" stroke="#1c4212" stroke-width="0.3"/><path d="M400.60 73.95L397.77 72.20L402.10 69.70Z" fill="#3a7a2c" stroke="#3a7a2c" stroke-width="0.3"/><path d="M410.10 78.65L411.60 74.40L415.93 76.90Z" fill="#6cae52" stroke="#6cae52" stroke-width="0.3"/><path d="M410.10 78.65L415.93 76.90L415.93 81.90Z" fill="#5a9e44" stroke="#5a9e44" stroke-width="0.3"/><path d="M410.10 78.65L415.93 81.90L411.60 84.40Z" fill="#3e7e2e" stroke="#3e7e2e" stroke-width="0.3"/><path d="M410.10 78.65L411.60 84.40L407.27 81.90Z" fill="#24521a" stroke="#24521a" stroke-width="0.3"/><path d="M410.10 78.65L407.27 81.90L407.27 76.90Z" fill="#1c4212" stroke="#1c4212" stroke-width="0.3"/><path d="M410.10 78.65L407.27 76.90L411.60 74.40Z" fill="#3a7a2c" stroke="#3a7a2c" stroke-width="0.3"/><path d="M428.20 96.55L429.70 92.30L434.03 94.80Z" fill="#6cae52" stroke="#6cae52" stroke-width="0.3"/><path d="M428.20 96.55L434.03 94.80L434.03 99.80Z" fill="#5a9e44" stroke="#5a9e44" stroke-width="0.3"/><path d="M428.20 96.55L434.03 99.80L429.70 102.30Z" fill="#3e7e2e" stroke="#3e7e2e" stroke-width="0.3"/><path d="M428.20 96.55L429.70 102.30L425.37 99.80Z" fill="#24521a" stroke="#24521a" stroke-width="0.3"/><path d="M428.20 96.55L425.37 99.80L425.37 94.80Z" fill="#1c4212" stroke="#1c4212" stroke-width="0.3"/><path d="M428.20 96.55L425.37 94.80L429.70 92.30Z" fill="#3a7a2c" stroke="#3a7a2c" stroke-width="0.3"/><path d="M450.70 99.65L452.20 95.40L456.53 97.90Z" fill="#6cae52" stroke="#6cae52" stroke-width="0.3"/><path d="M450.70 99.65L456.53 97.90L456.53 102.90Z" fill="#5a9e44" stroke="#5a9e44" stroke-width="0.3"/><path d="M450.70 99.65L456.53 102.90L452.20 105.40Z" fill="#3e7e2e" stroke="#3e7e2e" stroke-width="0.3"/><path d="M450.70 99.65L452.20 105.40L447.87 102.90Z" fill="#24521a" stroke="#24521a" stroke-width="0.3"/><path d="M450.70 99.65L447.87 102.90L447.87 97.90Z" fill="#1c4212" stroke="#1c4212" stroke-width="0.3"/><path d="M450.70 99.65L447.87 97.90L452.20 95.40Z" fill="#3a7a2c" stroke="#3a7a2c" stroke-width="0.3"/><path d="M410.50 105.85L405.25 105.35L410.25 101.10Z" fill="#2a5a1e" stroke="#2a5a1e" stroke-width="0.3"/><path d="M410.50 105.85L410.25 101.10L416.50 105.85Z" fill="#5a9a44" stroke="#5a9a44" stroke-width="0.3"/><path d="M410.50 105.85L416.50 105.85L411.00 109.85Z" fill="#3a742a" stroke="#3a742a" stroke-width="0.3"/><path d="M410.50 105.85L411.00 109.85L405.25 105.35Z" fill="#173c0e" stroke="#173c0e" stroke-width="0.3"/><path d="M444.50 107.25L439.25 106.75L444.25 102.50Z" fill="#2a5a1e" stroke="#2a5a1e" stroke-width="0.3"/><path d="M444.50 107.25L444.25 102.50L450.50 107.25Z" fill="#5a9a44" stroke="#5a9a44" stroke-width="0.3"/><path d="M444.50 107.25L450.50 107.25L445.00 111.25Z" fill="#3a742a" stroke="#3a742a" stroke-width="0.3"/><path d="M444.50 107.25L445.00 111.25L439.25 106.75Z" fill="#173c0e" stroke="#173c0e" stroke-width="0.3"/><path d="M395.30 104.85L396.80 100.60L401.13 103.10Z" fill="#6cae52" stroke="#6cae52" stroke-width="0.3"/><path d="M395.30 104.85L401.13 103.10L401.13 108.10Z" fill="#5a9e44" stroke="#5a9e44" stroke-width="0.3"/><path d="M395.30 104.85L401.13 108.10L396.80 110.60Z" fill="#3e7e2e" stroke="#3e7e2e" stroke-width="0.3"/><path d="M395.30 104.85L396.80 110.60L392.47 108.10Z" fill="#24521a" stroke="#24521a" stroke-width="0.3"/><path d="M395.30 104.85L392.47 108.10L392.47 103.10Z" fill="#1c4212" stroke="#1c4212" stroke-width="0.3"/><path d="M395.30 104.85L392.47 103.10L396.80 100.60Z" fill="#3a7a2c" stroke="#3a7a2c" stroke-width="0.3"/><path d="M402.50 116.05L404.00 111.80L408.33 114.30Z" fill="#6cae52" stroke="#6cae52" stroke-width="0.3"/><path d="M402.50 116.05L408.33 114.30L408.33 119.30Z" fill="#5a9e44" stroke="#5a9e44" stroke-width="0.3"/><path d="M402.50 116.05L408.33 119.30L404.00 121.80Z" fill="#3e7e2e" stroke="#3e7e2e" stroke-width="0.3"/><path d="M402.50 116.05L404.00 121.80L399.67 119.30Z" fill="#24521a" stroke="#24521a" stroke-width="0.3"/><path d="M402.50 116.05L399.67 119.30L399.67 114.30Z" fill="#1c4212" stroke="#1c4212" stroke-width="0.3"/><path d="M402.50 116.05L399.67 114.30L404.00 111.80Z" fill="#3a7a2c" stroke="#3a7a2c" stroke-width="0.3"/><path d="M419.00 117.25L420.50 113.00L424.83 115.50Z" fill="#6cae52" stroke="#6cae52" stroke-width="0.3"/><path d="M419.00 117.25L424.83 115.50L424.83 120.50Z" fill="#5a9e44" stroke="#5a9e44" stroke-width="0.3"/><path d="M419.00 117.25L424.83 120.50L420.50 123.00Z" fill="#3e7e2e" stroke="#3e7e2e" stroke-width="0.3"/><path d="M419.00 117.25L420.50 123.00L416.17 120.50Z" fill="#24521a" stroke="#24521a" stroke-width="0.3"/><path d="M419.00 117.25L416.17 120.50L416.17 115.50Z" fill="#1c4212" stroke="#1c4212" stroke-width="0.3"/><path d="M419.00 117.25L416.17 115.50L420.50 113.00Z" fill="#3a7a2c" stroke="#3a7a2c" stroke-width="0.3"/><path d="M400.80 124.15L395.55 123.65L400.55 119.40Z" fill="#2a5a1e" stroke="#2a5a1e" stroke-width="0.3"/><path d="M400.80 124.15L400.55 119.40L406.80 124.15Z" fill="#5a9a44" stroke="#5a9a44" stroke-width="0.3"/><path d="M400.80 124.15L406.80 124.15L401.30 128.15Z" fill="#3a742a" stroke="#3a742a" stroke-width="0.3"/><path d="M400.80 124.15L401.30 128.15L395.55 123.65Z" fill="#173c0e" stroke="#173c0e" stroke-width="0.3"/><path d="M377.40 124.05L378.90 119.80L383.23 122.30Z" fill="#6cae52" stroke="#6cae52" stroke-width="0.3"/><path d="M377.40 124.05L383.23 122.30L383.23 127.30Z" fill="#5a9e44" stroke="#5a9e44" stroke-width="0.3"/><path d="M377.40 124.05L383.23 127.30L378.90 129.80Z" fill="#3e7e2e" stroke="#3e7e2e" stroke-width="0.3"/><path d="M377.40 124.05L378.90 129.80L374.57 127.30Z" fill="#24521a" stroke="#24521a" stroke-width="0.3"/><path d="M377.40 124.05L374.57 127.30L374.57 122.30Z" fill="#1c4212" stroke="#1c4212" stroke-width="0.3"/><path d="M377.40 124.05L374.57 122.30L378.90 119.80Z" fill="#3a7a2c" stroke="#3a7a2c" stroke-width="0.3"/><path d="M426.80 125.25L421.55 124.75L426.55 120.50Z" fill="#2a5a1e" stroke="#2a5a1e" stroke-width="0.3"/><path d="M426.80 125.25L426.55 120.50L432.80 125.25Z" fill="#5a9a44" stroke="#5a9a44" stroke-width="0.3"/><path d="M426.80 125.25L432.80 125.25L427.30 129.25Z" fill="#3a742a" stroke="#3a742a" stroke-width="0.3"/><path d="M426.80 125.25L427.30 129.25L421.55 124.75Z" fill="#173c0e" stroke="#173c0e" stroke-width="0.3"/><path d="M441.20 124.55L442.70 120.30L447.03 122.80Z" fill="#6cae52" stroke="#6cae52" stroke-width="0.3"/><path d="M441.20 124.55L447.03 122.80L447.03 127.80Z" fill="#5a9e44" stroke="#5a9e44" stroke-width="0.3"/><path d="M441.20 124.55L447.03 127.80L442.70 130.30Z" fill="#3e7e2e" stroke="#3e7e2e" stroke-width="0.3"/><path d="M441.20 124.55L442.70 130.30L438.37 127.80Z" fill="#24521a" stroke="#24521a" stroke-width="0.3"/><path d="M441.20 124.55L438.37 127.80L438.37 122.80Z" fill="#1c4212" stroke="#1c4212" stroke-width="0.3"/><path d="M441.20 124.55L438.37 122.80L442.70 120.30Z" fill="#3a7a2c" stroke="#3a7a2c" stroke-width="0.3"/><path d="M454.70 127.05L449.45 126.55L454.45 122.30Z" fill="#2a5a1e" stroke="#2a5a1e" stroke-width="0.3"/><path d="M454.70 127.05L454.45 122.30L460.70 127.05Z" fill="#5a9a44" stroke="#5a9a44" stroke-width="0.3"/><path d="M454.70 127.05L460.70 127.05L455.20 131.05Z" fill="#3a742a" stroke="#3a742a" stroke-width="0.3"/><path d="M454.70 127.05L455.20 131.05L449.45 126.55Z" fill="#173c0e" stroke="#173c0e" stroke-width="0.3"/><path d="M455.20 126.55L456.70 122.30L461.03 124.80Z" fill="#6cae52" stroke="#6cae52" stroke-width="0.3"/><path d="M455.20 126.55L461.03 124.80L461.03 129.80Z" fill="#5a9e44" stroke="#5a9e44" stroke-width="0.3"/><path d="M455.20 126.55L461.03 129.80L456.70 132.30Z" fill="#3e7e2e" stroke="#3e7e2e" stroke-width="0.3"/><path d="M455.20 126.55L456.70 132.30L452.37 129.80Z" fill="#24521a" stroke="#24521a" stroke-width="0.3"/><path d="M455.20 126.55L452.37 129.80L452.37 124.80Z" fill="#1c4212" stroke="#1c4212" stroke-width="0.3"/><path d="M455.20 126.55L452.37 124.80L456.70 122.30Z" fill="#3a7a2c" stroke="#3a7a2c" stroke-width="0.3"/><path d="M472.50 130.05L474.00 125.80L478.33 128.30Z" fill="#6cae52" stroke="#6cae52" stroke-width="0.3"/><path d="M472.50 130.05L478.33 128.30L478.33 133.30Z" fill="#5a9e44" stroke="#5a9e44" stroke-width="0.3"/><path d="M472.50 130.05L478.33 133.30L474.00 135.80Z" fill="#3e7e2e" stroke="#3e7e2e" stroke-width="0.3"/><path d="M472.50 130.05L474.00 135.80L469.67 133.30Z" fill="#24521a" stroke="#24521a" stroke-width="0.3"/><path d="M472.50 130.05L469.67 133.30L469.67 128.30Z" fill="#1c4212" stroke="#1c4212" stroke-width="0.3"/><path d="M472.50 130.05L469.67 128.30L474.00 125.80Z" fill="#3a7a2c" stroke="#3a7a2c" stroke-width="0.3"/><path d="M456.80 133.55L451.55 133.05L456.55 128.80Z" fill="#2a5a1e" stroke="#2a5a1e" stroke-width="0.3"/><path d="M456.80 133.55L456.55 128.80L462.80 133.55Z" fill="#5a9a44" stroke="#5a9a44" stroke-width="0.3"/><path d="M456.80 133.55L462.80 133.55L457.30 137.55Z" fill="#3a742a" stroke="#3a742a" stroke-width="0.3"/><path d="M456.80 133.55L457.30 137.55L451.55 133.05Z" fill="#173c0e" stroke="#173c0e" stroke-width="0.3"/><path d="M457.80 133.45L459.30 129.20L463.63 131.70Z" fill="#6cae52" stroke="#6cae52" stroke-width="0.3"/><path d="M457.80 133.45L463.63 131.70L463.63 136.70Z" fill="#5a9e44" stroke="#5a9e44" stroke-width="0.3"/><path d="M457.80 133.45L463.63 136.70L459.30 139.20Z" fill="#3e7e2e" stroke="#3e7e2e" stroke-width="0.3"/><path d="M457.80 133.45L459.30 139.20L454.97 136.70Z" fill="#24521a" stroke="#24521a" stroke-width="0.3"/><path d="M457.80 133.45L454.97 136.70L454.97 131.70Z" fill="#1c4212" stroke="#1c4212" stroke-width="0.3"/><path d="M457.80 133.45L454.97 131.70L459.30 129.20Z" fill="#3a7a2c" stroke="#3a7a2c" stroke-width="0.3"/><path d="M446.20 136.75L440.95 136.25L445.95 132.00Z" fill="#2a5a1e" stroke="#2a5a1e" stroke-width="0.3"/><path d="M446.20 136.75L445.95 132.00L452.20 136.75Z" fill="#5a9a44" stroke="#5a9a44" stroke-width="0.3"/><path d="M446.20 136.75L452.20 136.75L446.70 140.75Z" fill="#3a742a" stroke="#3a742a" stroke-width="0.3"/><path d="M446.20 136.75L446.70 140.75L440.95 136.25Z" fill="#173c0e" stroke="#173c0e" stroke-width="0.3"/><path d="M477.30 136.55L472.05 136.05L477.05 131.80Z" fill="#2a5a1e" stroke="#2a5a1e" stroke-width="0.3"/><path d="M477.30 136.55L477.05 131.80L483.30 136.55Z" fill="#5a9a44" stroke="#5a9a44" stroke-width="0.3"/><path d="M477.30 136.55L483.30 136.55L477.80 140.55Z" fill="#3a742a" stroke="#3a742a" stroke-width="0.3"/><path d="M477.30 136.55L477.80 140.55L472.05 136.05Z" fill="#173c0e" stroke="#173c0e" stroke-width="0.3"/><path d="M470.50 141.65L465.25 141.15L470.25 136.90Z" fill="#2a5a1e" stroke="#2a5a1e" stroke-width="0.3"/><path d="M470.50 141.65L470.25 136.90L476.50 141.65Z" fill="#5a9a44" stroke="#5a9a44" stroke-width="0.3"/><path d="M470.50 141.65L476.50 141.65L471.00 145.65Z" fill="#3a742a" stroke="#3a742a" stroke-width="0.3"/><path d="M470.50 141.65L471.00 145.65L465.25 141.15Z" fill="#173c0e" stroke="#173c0e" stroke-width="0.3"/><path d="M459.00 142.25L460.50 138.00L464.83 140.50Z" fill="#6cae52" stroke="#6cae52" stroke-width="0.3"/><path d="M459.00 142.25L464.83 140.50L464.83 145.50Z" fill="#5a9e44" stroke="#5a9e44" stroke-width="0.3"/><path d="M459.00 142.25L464.83 145.50L460.50 148.00Z" fill="#3e7e2e" stroke="#3e7e2e" stroke-width="0.3"/><path d="M459.00 142.25L460.50 148.00L456.17 145.50Z" fill="#24521a" stroke="#24521a" stroke-width="0.3"/><path d="M459.00 142.25L456.17 145.50L456.17 140.50Z" fill="#1c4212" stroke="#1c4212" stroke-width="0.3"/><path d="M459.00 142.25L456.17 140.50L460.50 138.00Z" fill="#3a7a2c" stroke="#3a7a2c" stroke-width="0.3"/><path d="M480.50 140.25L482.00 136.00L486.33 138.50Z" fill="#6cae52" stroke="#6cae52" stroke-width="0.3"/><path d="M480.50 140.25L486.33 138.50L486.33 143.50Z" fill="#5a9e44" stroke="#5a9e44" stroke-width="0.3"/><path d="M480.50 140.25L486.33 143.50L482.00 146.00Z" fill="#3e7e2e" stroke="#3e7e2e" stroke-width="0.3"/><path d="M480.50 140.25L482.00 146.00L477.67 143.50Z" fill="#24521a" stroke="#24521a" stroke-width="0.3"/><path d="M480.50 140.25L477.67 143.50L477.67 138.50Z" fill="#1c4212" stroke="#1c4212" stroke-width="0.3"/><path d="M480.50 140.25L477.67 138.50L482.00 136.00Z" fill="#3a7a2c" stroke="#3a7a2c" stroke-width="0.3"/><path d="M439.80 154.25L441.30 150.00L445.63 152.50Z" fill="#6cae52" stroke="#6cae52" stroke-width="0.3"/><path d="M439.80 154.25L445.63 152.50L445.63 157.50Z" fill="#5a9e44" stroke="#5a9e44" stroke-width="0.3"/><path d="M439.80 154.25L445.63 157.50L441.30 160.00Z" fill="#3e7e2e" stroke="#3e7e2e" stroke-width="0.3"/><path d="M439.80 154.25L441.30 160.00L436.97 157.50Z" fill="#24521a" stroke="#24521a" stroke-width="0.3"/><path d="M439.80 154.25L436.97 157.50L436.97 152.50Z" fill="#1c4212" stroke="#1c4212" stroke-width="0.3"/><path d="M439.80 154.25L436.97 152.50L441.30 150.00Z" fill="#3a7a2c" stroke="#3a7a2c" stroke-width="0.3"/><path d="M405.50 146.85L400.25 146.35L405.25 142.10Z" fill="#2a5a1e" stroke="#2a5a1e" stroke-width="0.3"/><path d="M405.50 146.85L405.25 142.10L411.50 146.85Z" fill="#5a9a44" stroke="#5a9a44" stroke-width="0.3"/><path d="M405.50 146.85L411.50 146.85L406.00 150.85Z" fill="#3a742a" stroke="#3a742a" stroke-width="0.3"/><path d="M405.50 146.85L406.00 150.85L400.25 146.35Z" fill="#173c0e" stroke="#173c0e" stroke-width="0.3"/><path d="M421.10 153.15L415.85 152.65L420.85 148.40Z" fill="#2a5a1e" stroke="#2a5a1e" stroke-width="0.3"/><path d="M421.10 153.15L420.85 148.40L427.10 153.15Z" fill="#5a9a44" stroke="#5a9a44" stroke-width="0.3"/><path d="M421.10 153.15L427.10 153.15L421.60 157.15Z" fill="#3a742a" stroke="#3a742a" stroke-width="0.3"/><path d="M421.10 153.15L421.60 157.15L415.85 152.65Z" fill="#173c0e" stroke="#173c0e" stroke-width="0.3"/><path d="M428.40 158.35L423.15 157.85L428.15 153.60Z" fill="#2a5a1e" stroke="#2a5a1e" stroke-width="0.3"/><path d="M428.40 158.35L428.15 153.60L434.40 158.35Z" fill="#5a9a44" stroke="#5a9a44" stroke-width="0.3"/><path d="M428.40 158.35L434.40 158.35L428.90 162.35Z" fill="#3a742a" stroke="#3a742a" stroke-width="0.3"/><path d="M428.40 158.35L428.90 162.35L423.15 157.85Z" fill="#173c0e" stroke="#173c0e" stroke-width="0.3"/><path d="M463.30 155.45L464.80 151.20L469.13 153.70Z" fill="#6cae52" stroke="#6cae52" stroke-width="0.3"/><path d="M463.30 155.45L469.13 153.70L469.13 158.70Z" fill="#5a9e44" stroke="#5a9e44" stroke-width="0.3"/><path d="M463.30 155.45L469.13 158.70L464.80 161.20Z" fill="#3e7e2e" stroke="#3e7e2e" stroke-width="0.3"/><path d="M463.30 155.45L464.80 161.20L460.47 158.70Z" fill="#24521a" stroke="#24521a" stroke-width="0.3"/><path d="M463.30 155.45L460.47 158.70L460.47 153.70Z" fill="#1c4212" stroke="#1c4212" stroke-width="0.3"/><path d="M463.30 155.45L460.47 153.70L464.80 151.20Z" fill="#3a7a2c" stroke="#3a7a2c" stroke-width="0.3"/><path d="M471.10 154.85L465.85 154.35L470.85 150.10Z" fill="#2a5a1e" stroke="#2a5a1e" stroke-width="0.3"/><path d="M471.10 154.85L470.85 150.10L477.10 154.85Z" fill="#5a9a44" stroke="#5a9a44" stroke-width="0.3"/><path d="M471.10 154.85L477.10 154.85L471.60 158.85Z" fill="#3a742a" stroke="#3a742a" stroke-width="0.3"/><path d="M471.10 154.85L471.60 158.85L465.85 154.35Z" fill="#173c0e" stroke="#173c0e" stroke-width="0.3"/><path d="M479.50 157.65L481.00 153.40L485.33 155.90Z" fill="#6cae52" stroke="#6cae52" stroke-width="0.3"/><path d="M479.50 157.65L485.33 155.90L485.33 160.90Z" fill="#5a9e44" stroke="#5a9e44" stroke-width="0.3"/><path d="M479.50 157.65L485.33 160.90L481.00 163.40Z" fill="#3e7e2e" stroke="#3e7e2e" stroke-width="0.3"/><path d="M479.50 157.65L481.00 163.40L476.67 160.90Z" fill="#24521a" stroke="#24521a" stroke-width="0.3"/><path d="M479.50 157.65L476.67 160.90L476.67 155.90Z" fill="#1c4212" stroke="#1c4212" stroke-width="0.3"/><path d="M479.50 157.65L476.67 155.90L481.00 153.40Z" fill="#3a7a2c" stroke="#3a7a2c" stroke-width="0.3"/><path d="M477.30 165.25L472.05 164.75L477.05 160.50Z" fill="#2a5a1e" stroke="#2a5a1e" stroke-width="0.3"/><path d="M477.30 165.25L477.05 160.50L483.30 165.25Z" fill="#5a9a44" stroke="#5a9a44" stroke-width="0.3"/><path d="M477.30 165.25L483.30 165.25L477.80 169.25Z" fill="#3a742a" stroke="#3a742a" stroke-width="0.3"/><path d="M477.30 165.25L477.80 169.25L472.05 164.75Z" fill="#173c0e" stroke="#173c0e" stroke-width="0.3"/><path d="M455.50 164.25L457.00 160.00L461.33 162.50Z" fill="#6cae52" stroke="#6cae52" stroke-width="0.3"/><path d="M455.50 164.25L461.33 162.50L461.33 167.50Z" fill="#5a9e44" stroke="#5a9e44" stroke-width="0.3"/><path d="M455.50 164.25L461.33 167.50L457.00 170.00Z" fill="#3e7e2e" stroke="#3e7e2e" stroke-width="0.3"/><path d="M455.50 164.25L457.00 170.00L452.67 167.50Z" fill="#24521a" stroke="#24521a" stroke-width="0.3"/><path d="M455.50 164.25L452.67 167.50L452.67 162.50Z" fill="#1c4212" stroke="#1c4212" stroke-width="0.3"/><path d="M455.50 164.25L452.67 162.50L457.00 160.00Z" fill="#3a7a2c" stroke="#3a7a2c" stroke-width="0.3"/><path d="M399.30 165.55L394.05 165.05L399.05 160.80Z" fill="#2a5a1e" stroke="#2a5a1e" stroke-width="0.3"/><path d="M399.30 165.55L399.05 160.80L405.30 165.55Z" fill="#5a9a44" stroke="#5a9a44" stroke-width="0.3"/><path d="M399.30 165.55L405.30 165.55L399.80 169.55Z" fill="#3a742a" stroke="#3a742a" stroke-width="0.3"/><path d="M399.30 165.55L399.80 169.55L394.05 165.05Z" fill="#173c0e" stroke="#173c0e" stroke-width="0.3"/><path d="M423.20 172.85L417.95 172.35L422.95 168.10Z" fill="#2a5a1e" stroke="#2a5a1e" stroke-width="0.3"/><path d="M423.20 172.85L422.95 168.10L429.20 172.85Z" fill="#5a9a44" stroke="#5a9a44" stroke-width="0.3"/><path d="M423.20 172.85L429.20 172.85L423.70 176.85Z" fill="#3a742a" stroke="#3a742a" stroke-width="0.3"/><path d="M423.20 172.85L423.70 176.85L417.95 172.35Z" fill="#173c0e" stroke="#173c0e" stroke-width="0.3"/><path d="M409.30 188.05L410.80 183.80L415.13 186.30Z" fill="#6cae52" stroke="#6cae52" stroke-width="0.3"/><path d="M409.30 188.05L415.13 186.30L415.13 191.30Z" fill="#5a9e44" stroke="#5a9e44" stroke-width="0.3"/><path d="M409.30 188.05L415.13 191.30L410.80 193.80Z" fill="#3e7e2e" stroke="#3e7e2e" stroke-width="0.3"/><path d="M409.30 188.05L410.80 193.80L406.47 191.30Z" fill="#24521a" stroke="#24521a" stroke-width="0.3"/><path d="M409.30 188.05L406.47 191.30L406.47 186.30Z" fill="#1c4212" stroke="#1c4212" stroke-width="0.3"/><path d="M409.30 188.05L406.47 186.30L410.80 183.80Z" fill="#3a7a2c" stroke="#3a7a2c" stroke-width="0.3"/><path d="M460.20 194.85L461.70 190.60L466.03 193.10Z" fill="#6cae52" stroke="#6cae52" stroke-width="0.3"/><path d="M460.20 194.85L466.03 193.10L466.03 198.10Z" fill="#5a9e44" stroke="#5a9e44" stroke-width="0.3"/><path d="M460.20 194.85L466.03 198.10L461.70 200.60Z" fill="#3e7e2e" stroke="#3e7e2e" stroke-width="0.3"/><path d="M460.20 194.85L461.70 200.60L457.37 198.10Z" fill="#24521a" stroke="#24521a" stroke-width="0.3"/><path d="M460.20 194.85L457.37 198.10L457.37 193.10Z" fill="#1c4212" stroke="#1c4212" stroke-width="0.3"/><path d="M460.20 194.85L457.37 193.10L461.70 190.60Z" fill="#3a7a2c" stroke="#3a7a2c" stroke-width="0.3"/><path d="M445.80 205.05L440.55 204.55L445.55 200.30Z" fill="#2a5a1e" stroke="#2a5a1e" stroke-width="0.3"/><path d="M445.80 205.05L445.55 200.30L451.80 205.05Z" fill="#5a9a44" stroke="#5a9a44" stroke-width="0.3"/><path d="M445.80 205.05L451.80 205.05L446.30 209.05Z" fill="#3a742a" stroke="#3a742a" stroke-width="0.3"/><path d="M445.80 205.05L446.30 209.05L440.55 204.55Z" fill="#173c0e" stroke="#173c0e" stroke-width="0.3"/><ellipse cx="333.5" cy="79.1" rx="4.75" ry="4.18" fill="url(#gb)"/><ellipse cx="363.8" cy="79.6" rx="4.75" ry="4.18" fill="url(#gb)"/><ellipse cx="374.5" cy="60.7" rx="4.75" ry="4.18" fill="url(#gb)"/><ellipse cx="378.7" cy="61.8" rx="4.75" ry="4.18" fill="url(#gb)"/><ellipse cx="376.6" cy="69" rx="4.75" ry="4.18" fill="url(#gb)"/><ellipse cx="393" cy="85" rx="4.75" ry="4.18" fill="url(#gb)"/><ellipse cx="351.2" cy="93.6" rx="4.75" ry="4.18" fill="url(#gb)"/><ellipse cx="357.3" cy="93.6" rx="4.75" ry="4.18" fill="url(#gb)"/><ellipse cx="367" cy="94.5" rx="4.75" ry="4.18" fill="url(#gb)"/><ellipse cx="354.7" cy="99.7" rx="4.75" ry="4.18" fill="url(#gb)"/><ellipse cx="359" cy="102.3" rx="4.75" ry="4.18" fill="url(#gb)"/><ellipse cx="370.3" cy="107.5" rx="4.75" ry="4.18" fill="url(#gb)"/><ellipse cx="382.4" cy="106.1" rx="4.75" ry="4.18" fill="url(#gb)"/><ellipse cx="362.5" cy="110.1" rx="4.75" ry="4.18" fill="url(#gb)"/><ellipse cx="376.3" cy="110.1" rx="4.75" ry="4.18" fill="url(#gb)"/><ellipse cx="352.6" cy="137.3" rx="4.75" ry="4.18" fill="url(#gr)"/><ellipse cx="351.6" cy="143.5" rx="4.75" ry="4.18" fill="url(#gr)"/><ellipse cx="356.8" cy="147" rx="4.75" ry="4.18" fill="url(#gr)"/><ellipse cx="340.8" cy="150.8" rx="4.75" ry="4.18" fill="url(#gr)"/><ellipse cx="369.2" cy="150.8" rx="4.75" ry="4.18" fill="url(#gr)"/><ellipse cx="350.5" cy="155" rx="4.75" ry="4.18" fill="url(#gr)"/><ellipse cx="360.9" cy="156" rx="4.75" ry="4.18" fill="url(#gr)"/><ellipse cx="350.5" cy="159.1" rx="4.75" ry="4.18" fill="url(#gr)"/><ellipse cx="349.5" cy="166.4" rx="4.75" ry="4.18" fill="url(#gr)"/><ellipse cx="327.7" cy="172.6" rx="4.75" ry="4.18" fill="url(#gr)"/><ellipse cx="336.6" cy="172" rx="4.75" ry="4.18" fill="url(#gr)"/><ellipse cx="344.9" cy="182.4" rx="4.75" ry="4.18" fill="url(#gr)"/><ellipse cx="321.5" cy="195.2" rx="4.75" ry="4.18" fill="url(#gr)"/>
</svg>
<div class="pl" style="left:0.6px;top:0.1px">A</div>
<div class="pl" style="left:284.5px;top:0.3px">B</div>

<div class="lg" style="left:205px;top:255px;width:37px;height:30.5px">
 <div class="hd">Disease</div>
 <div class="it" style="top:10px"><span class="sq" style="background:#b01c10"></span>BM CTR</div>
 <div class="it" style="top:16.4px"><span class="sq" style="background:#1010c0"></span>PB CTR</div>
 <div class="it" style="top:22.8px"><span class="sq" style="background:#3c7a2c"></span>PMF</div>
</div>
<div class="lg" style="left:253px;top:255px;width:46px;height:30.5px">
 <div class="hd">V617F JAK2</div>
 <div class="it" style="top:10px;left:1px"><span class="bu"><i class="dot" style="width:2.6px;height:2.6px"></i></span>ND</div>
 <div class="it" style="top:16.4px;left:1px"><span class="bu"><i class="dot" style="width:2.3px;height:2.3px"></i></span>V617F</div>
 <div class="it" style="top:22.8px;left:1px"><span class="bu"><svg style="position:absolute;left:0.3px;top:2.4px" width="4" height="4" viewBox="0 0 4 4"><path d="M1.6 0.3L3.2 3.3L0 3.3Z" fill="#111"/></svg></span>wild type</div>
</div>

</div></body></html>
